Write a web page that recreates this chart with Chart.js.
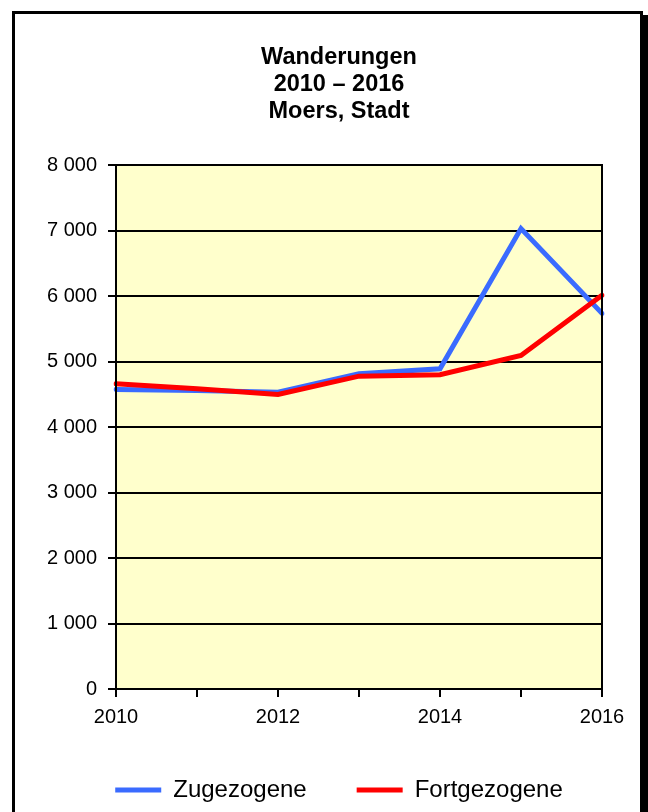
<!DOCTYPE html>
<html>
<head>
<meta charset="utf-8">
<script src="https://cdn.jsdelivr.net/npm/chart.js@4/dist/chart.umd.min.js"></script>
<style>
  html, body { margin: 0; padding: 0; background: #fff; overflow: hidden; width: 648px; height: 812px; }
  #frame { position: absolute; left: 12px; top: 11px; width: 631px; height: 900px; box-sizing: border-box;
           border: 3px solid #000; box-shadow: 5px 4px 0 #000; background: #fff; }
  #c { position: absolute; left: 0; top: 0; }
</style>
</head>
<body>
<div id="frame"></div>
<canvas id="c" width="648" height="812"></canvas>
<script>
const years = ['2010', '2011', '2012', '2013', '2014', '2015', '2016'];
const zugezogene = [4573, 4558, 4530, 4812, 4888, 7030, 5735];
const fortgezogene = [4660, 4585, 4497, 4776, 4797, 5091, 6011];
const titleLines = ['Wanderungen', '2010 – 2016', 'Moers, Stadt'];
const seriesNames = ['Zugezogene', 'Fortgezogene'];

const FONT = "'Liberation Sans', Arial, sans-serif";

const plotBg = {
  id: 'plotBg',
  beforeDraw(chart) {
    const {ctx, chartArea: a} = chart;
    ctx.save();
    ctx.fillStyle = '#FFFFCC';
    ctx.fillRect(a.left, a.top, a.right - a.left, a.bottom - a.top);
    ctx.restore();
  },
  afterDatasetsDraw(chart) {
    const {ctx, chartArea: a} = chart;
    ctx.save();
    ctx.strokeStyle = '#000';
    ctx.lineWidth = 2;
    ctx.strokeRect(a.left, a.top, a.right - a.left, a.bottom - a.top);
    ctx.restore();
  }
};

new Chart(document.getElementById('c'), {
  type: 'line',
  data: {
    labels: years,
    datasets: [
      { label: seriesNames[0], data: zugezogene, borderColor: '#3A6BFF', backgroundColor: '#3A6BFF',
        borderWidth: 5, pointRadius: 0, tension: 0, order: 1, borderCapStyle: 'round', borderJoinStyle: 'miter' },
      { label: seriesNames[1], data: fortgezogene, borderColor: '#FF0000', backgroundColor: '#FF0000',
        borderWidth: 5, pointRadius: 0, tension: 0, order: 0, borderCapStyle: 'round', borderJoinStyle: 'miter' }
    ]
  },
  options: {
    responsive: false,
    animation: false,
    devicePixelRatio: 1,
    layout: { padding: { left: 35, right: 5, top: 0, bottom: 0 } },
    plugins: {
      tooltip: { enabled: false },
      title: {
        display: true,
        text: titleLines,
        color: '#000',
        font: { family: FONT, size: 23.5, weight: 'bold', lineHeight: 27 / 23.5 },
        padding: { top: 44, bottom: 40 }
      },
      legend: {
        position: 'bottom',
        align: 'center',
        labels: {
          sort: (a, b) => a.datasetIndex - b.datasetIndex,
          color: '#000',
          font: { family: FONT, size: 24 },
          usePointStyle: true,
          pointStyle: 'line',
          pointStyleWidth: 46,
          padding: 50
        }
      }
    },
    scales: {
      x: {
        type: 'category',
        offset: false,
        grid: { display: true, drawOnChartArea: false, drawTicks: true, tickLength: 8, color: '#000', lineWidth: 2, offset: false },
        border: { display: true, color: '#000', width: 2 },
        ticks: {
          color: '#000', font: { family: FONT, size: 20 }, padding: 8,
          autoSkip: false, maxRotation: 0,
          callback: function (v, i) { return i % 2 === 0 ? this.getLabelForValue(v) : ''; }
        },
        afterFit(scale) { scale.height = 39; }
      },
      y: {
        min: 0, max: 8000,
        grid: { color: '#000', lineWidth: 2, tickLength: 8, drawTicks: true },
        border: { display: true, color: '#000', width: 2 },
        ticks: {
          stepSize: 1000, color: '#000', font: { family: FONT, size: 20 }, padding: 11,
          callback: v => String(v).replace(/\B(?=(\d{3})+(?!\d))/g, ' ')
        },
        afterFit(scale) { scale.width = 81; }
      },
      yRight: {
        type: 'linear',
        axis: 'y',
        position: 'right',
        min: 0, max: 8000,
        grid: { display: false, drawOnChartArea: false, drawTicks: false },
        border: { display: true, color: '#000', width: 2 },
        ticks: { display: false },
        afterFit(scale) { scale.width = 41; }
      }
    }
  },
  plugins: [plotBg]
});
</script>
</body>
</html>
